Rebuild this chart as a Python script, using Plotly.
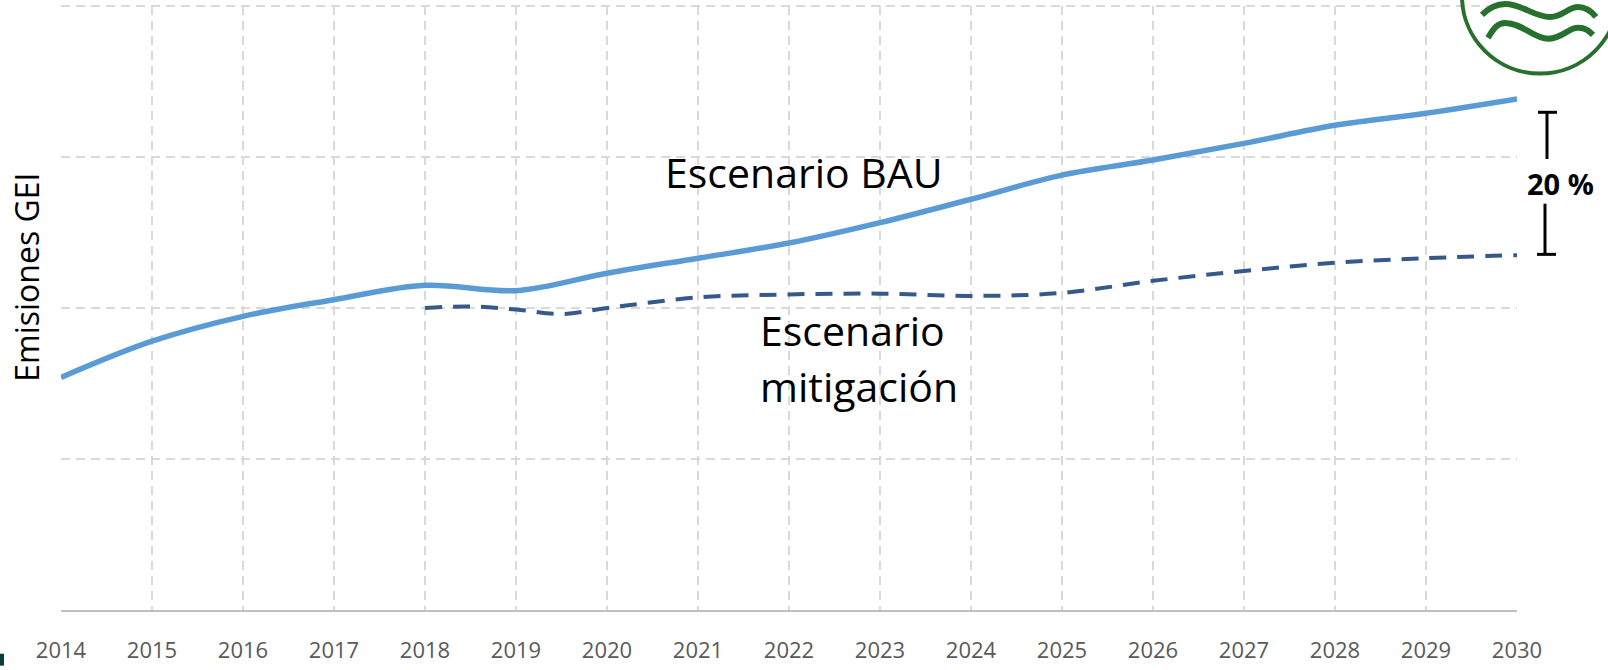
import plotly.graph_objects as go

# ---- data ----
years = [2014, 2015, 2016, 2017, 2018, 2019, 2020, 2021, 2022, 2023, 2024, 2025, 2026, 2027, 2028, 2029, 2030]
bau = [1.54, 1.78, 1.945, 2.055, 2.15, 2.115, 2.23, 2.33, 2.43, 2.565, 2.72, 2.88, 2.98, 3.09, 3.21, 3.29, 3.385]
mit_years = [2018, 2018.5, 2019, 2019.5, 2020, 2021, 2022, 2023, 2024, 2025, 2026, 2027, 2028, 2029, 2030]
mitigacion = [2.0, 2.01, 1.99, 1.96, 2.0, 2.07, 2.09, 2.095, 2.08, 2.10, 2.18, 2.245, 2.30, 2.33, 2.35]
tick_labels = [str(y) for y in years]
y_grid = [1, 2, 3, 4]

W, H = 1608, 670
ML, MR, MT, MB = 61, 91, 6, 56
PW, PH = W - ML - MR, H - MT - MB
GRID = dict(color="#d9d9d9", width=2, dash="9px,6px")


def P(xp, yp):
    """pixel -> paper coordinates (layout helper for decorations)"""
    return (xp - ML) / PW, (H - MB - yp) / PH


fig = go.Figure()
fig.add_trace(go.Scatter(
    x=years, y=bau, mode="lines", name="Escenario BAU",
    line=dict(color="#5b9bd5", width=5.5, shape="spline"),
    hoverinfo="skip"))
fig.add_trace(go.Scatter(
    x=mit_years, y=mitigacion, mode="lines", name="Escenario mitigación",
    line=dict(color="#34598a", width=4, shape="spline", dash="17px,11px"),
    hoverinfo="skip"))

shapes = []
# top grid line (plotly drops the gridline at the very edge of the range)
shapes.append(dict(type="line", xref="paper", yref="paper", x0=0, x1=1, y0=1, y1=1,
                   line=GRID, layer="below"))

# 20 % bracket
def seg(x0, y0, x1, y1, color="black", width=3):
    a, b = P(x0, y0)
    c, d = P(x1, y1)
    shapes.append(dict(type="line", xref="paper", yref="paper", x0=a, y0=b, x1=c, y1=d,
                       line=dict(color=color, width=width)))

seg(1538, 113, 1557, 113)
seg(1547, 113, 1547, 160)
seg(1545, 205, 1545, 256)
seg(1537, 256, 1556, 256)

# logo (decoration)
green = "#27702d"
cx0, cy0 = P(1462, -82)
cx1, cy1 = P(1618, 74)
shapes.append(dict(type="circle", xref="paper", yref="paper", x0=cx0, x1=cx1, y0=cy1, y1=cy0,
                   line=dict(color=green, width=4), layer="below"))

def wave(pts):
    s = "M %.5f,%.5f" % P(*pts[0])
    for i in range(1, len(pts), 3):
        c1 = P(*pts[i]); c2 = P(*pts[i + 1]); e = P(*pts[i + 2])
        s += " C %.5f,%.5f %.5f,%.5f %.5f,%.5f" % (c1 + c2 + e)
    return s

w1 = [(1482, 15), (1488, 9), (1495, 4), (1505, 4),
      (1522, 4), (1534, 17), (1550, 17),
      (1563, 17), (1568, 7), (1578, 7),
      (1587, 7), (1592, 12), (1596, 17)]
w2 = [(1488, 38), (1493, 30), (1497, 23), (1505, 23),
      (1522, 23), (1534, 39), (1548, 39),
      (1562, 39), (1568, 28), (1578, 28),
      (1586, 28), (1589, 31), (1593, 35)]
for w in (w1, w2):
    shapes.append(dict(type="path", xref="paper", yref="paper", path=wave(w),
                       line=dict(color=green, width=6), layer="below"))

# small dark block bottom-left
bx0, by0 = P(0, 670)
bx1, by1 = P(4, 658)
shapes.append(dict(type="rect", xref="paper", yref="paper", x0=bx0, x1=bx1, y0=by0, y1=by1,
                   fillcolor="#0b3b3c", line=dict(width=0)))

ann = []
def text(t, xp, yp, size, xanchor="center", angle=0, bold=False):
    ax, ay = P(xp, yp)
    ann.append(dict(text=("<b>%s</b>" % t) if bold else t, x=ax, y=ay, xref="paper", yref="paper",
                    xanchor=xanchor, yanchor="middle", showarrow=False, textangle=angle,
                    font=dict(family="Open Sans", size=size, color="black")))

text("Escenario BAU", 804, 173, 41)
text("Escenario", 758, 332, 41, xanchor="left")
text("mitigación", 758, 389, 41, xanchor="left")
text("20 %", 1560.5, 185, 29, bold=True)
text("Emisiones GEI", 27, 279.5, 32, angle=-90)

fig.update_layout(
    width=W, height=H, autosize=False,
    margin=dict(l=ML, r=MR, t=MT, b=MB, pad=0),
    paper_bgcolor="white", plot_bgcolor="white",
    showlegend=False,
    shapes=shapes, annotations=ann,
    xaxis=dict(range=[2014, 2030], tickmode="array", tickvals=years, ticktext=tick_labels,
               showgrid=True, gridcolor=GRID["color"], gridwidth=GRID["width"], griddash=GRID["dash"],
               showline=True, linecolor="#bfbfbf", linewidth=2, ticks="",
               ticklabelstandoff=20, zeroline=False,
               tickfont=dict(family="Open Sans", size=22, color="#595959")),
    yaxis=dict(range=[0, 4], tickmode="array", tickvals=y_grid, showticklabels=False, ticks="",
               showgrid=True, gridcolor=GRID["color"], gridwidth=GRID["width"], griddash=GRID["dash"],
               showline=False, zeroline=False),
)

fig.write_html("out.html", include_plotlyjs=True, config={"displayModeBar": False},
               post_script="document.body.style.margin='0';document.body.style.overflow='hidden';")
